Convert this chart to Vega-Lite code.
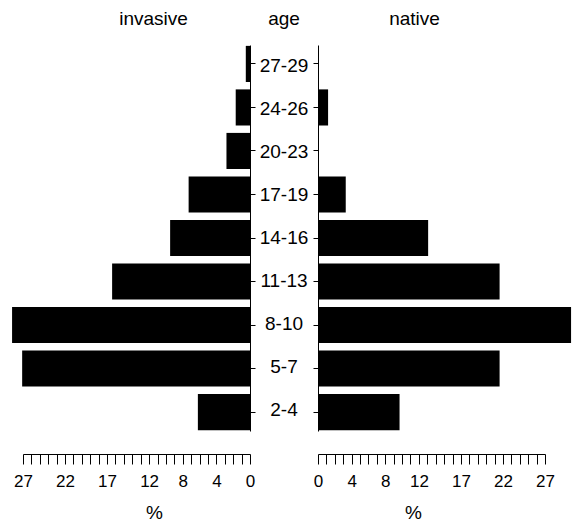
{
  "$schema": "https://vega.github.io/schema/vega-lite/v6.json",
  "padding": {"left": 12, "top": 10, "right": 3, "bottom": 0},
  "background": "white",
  "data": {
    "values": [
      {"age": "27-29", "group": "invasive", "pct": 0.5},
      {"age": "24-26", "group": "invasive", "pct": 1.7},
      {"age": "20-23", "group": "invasive", "pct": 2.8},
      {"age": "17-19", "group": "invasive", "pct": 7.3},
      {"age": "14-16", "group": "invasive", "pct": 9.5},
      {"age": "11-13", "group": "invasive", "pct": 16.4},
      {"age": "8-10", "group": "invasive", "pct": 28.3},
      {"age": "5-7", "group": "invasive", "pct": 27.1},
      {"age": "2-4", "group": "invasive", "pct": 6.2},
      {"age": "27-29", "group": "native", "pct": 0},
      {"age": "24-26", "group": "native", "pct": 1.2},
      {"age": "20-23", "group": "native", "pct": 0},
      {"age": "17-19", "group": "native", "pct": 3.3},
      {"age": "14-16", "group": "native", "pct": 13.1},
      {"age": "11-13", "group": "native", "pct": 21.6},
      {"age": "8-10", "group": "native", "pct": 30.1},
      {"age": "5-7", "group": "native", "pct": 21.6},
      {"age": "2-4", "group": "native", "pct": 9.7}
    ]
  },
  "spacing": 0,
  "bounds": "flush",
  "hconcat": [
    {
      "width": 227,
      "height": 386,
      "title": {"text": "invasive", "dx": 17},
      "transform": [{"filter": "datum.group === 'invasive'"}],
      "mark": {"type": "bar", "color": "black"},
      "encoding": {
        "y": {
          "field": "age", "type": "nominal",
          "sort": ["27-29", "24-26", "20-23", "17-19", "14-16", "11-13", "8-10", "5-7", "2-4"],
          "scale": {"paddingInner": 0.17, "paddingOuter": 0.02},
          "axis": {"orient": "right", "labels": false, "ticks": true, "tickSize": 5, "title": null, "domain": true}
        },
        "x": {
          "field": "pct", "type": "quantitative",
          "scale": {"domain": [0, 27], "reverse": true, "nice": false},
          "axis": {
            "orient": "bottom", "offset": 23, "tickSize": 10,
            "values": [0,1,2,3,4,5,6,7,8,9,10,11,12,13,14,15,16,17,18,19,20,21,22,23,24,25,26,27],
            "labelExpr": "indexof([0,4,8,12,17,22,27], datum.value) >= 0 ? datum.label : ''",
            "labelOverlap": false, "labelFlush": false, "labelBound": false,
            "labelFontSize": 17, "labelPadding": 9,
            "title": "%", "titleFontSize": 19, "titleFontWeight": "normal",
            "titleBaseline": "alphabetic", "titleX": 131, "titleY": 64
          }
        }
      }
    },
    {
      "width": 68,
      "height": 386,
      "title": {"text": "age"},
      "transform": [{"filter": "datum.group === 'invasive'"}],
      "mark": {"type": "text", "fontSize": 19, "color": "black", "align": "center", "baseline": "middle"},
      "encoding": {
        "y": {
          "field": "age", "type": "nominal",
          "sort": ["27-29", "24-26", "20-23", "17-19", "14-16", "11-13", "8-10", "5-7", "2-4"],
          "scale": {"paddingInner": 0.17, "paddingOuter": 0.02},
          "axis": null
        },
        "text": {"field": "age", "type": "nominal"}
      }
    },
    {
      "width": 227,
      "height": 386,
      "title": {"text": "native", "dx": -17},
      "transform": [{"filter": "datum.group === 'native'"}],
      "mark": {"type": "bar", "color": "black"},
      "encoding": {
        "y": {
          "field": "age", "type": "nominal",
          "sort": ["27-29", "24-26", "20-23", "17-19", "14-16", "11-13", "8-10", "5-7", "2-4"],
          "scale": {"paddingInner": 0.17, "paddingOuter": 0.02},
          "axis": {"orient": "left", "labels": false, "ticks": true, "tickSize": 5, "title": null, "domain": true}
        },
        "x": {
          "field": "pct", "type": "quantitative",
          "scale": {"domain": [0, 27], "nice": false},
          "axis": {
            "orient": "bottom", "offset": 23, "tickSize": 10,
            "values": [0,1,2,3,4,5,6,7,8,9,10,11,12,13,14,15,16,17,18,19,20,21,22,23,24,25,26,27],
            "labelExpr": "indexof([0,4,8,12,17,22,27], datum.value) >= 0 ? datum.label : ''",
            "labelOverlap": false, "labelFlush": false, "labelBound": false,
            "labelFontSize": 17, "labelPadding": 9,
            "title": "%", "titleFontSize": 19, "titleFontWeight": "normal",
            "titleBaseline": "alphabetic", "titleX": 95, "titleY": 64
          }
        }
      }
    }
  ],
  "config": {
    "font": "Liberation Sans",
    "view": {"stroke": null},
    "title": {"fontSize": 19, "fontWeight": "normal", "color": "black", "baseline": "alphabetic", "offset": 16, "anchor": "middle"},
    "axis": {"grid": false, "domainColor": "black", "tickColor": "black", "labelColor": "black", "titleColor": "black", "domainWidth": 1, "tickWidth": 1}
  }
}
